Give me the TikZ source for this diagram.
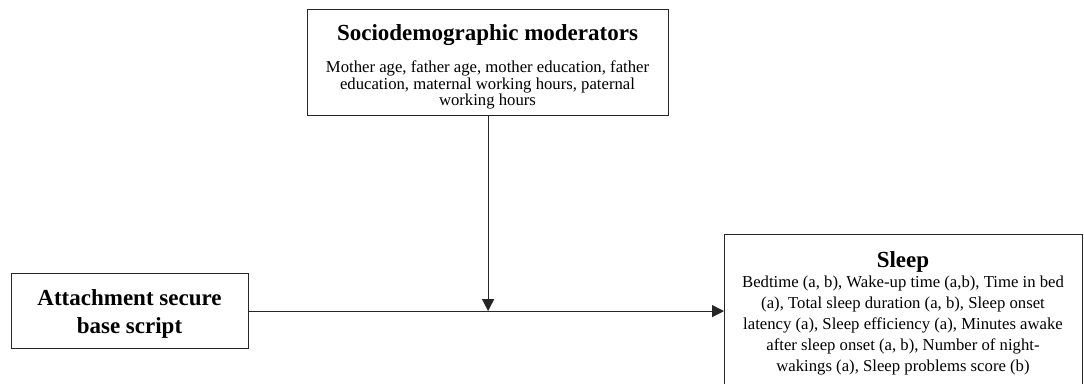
\documentclass[tikz,border=0pt]{standalone}
\usepackage{fontspec}
\setmainfont{Liberation Serif}
\usetikzlibrary{arrows.meta}
\begin{document}
\begin{tikzpicture}[x=1pt,y=-1pt,
  box/.style={draw=black!85, line width=1.2pt, rectangle, inner sep=0pt, anchor=north west},
  titletext/.style={font=\bfseries\fontsize{23}{28}\selectfont, align=center, inner sep=0pt, anchor=base},
  bodytext/.style={font=\fontsize{16.7}{16.3}\selectfont, align=center, inner sep=0pt, anchor=base},
  widebody/.style={font=\fontsize{16.7}{21}\selectfont, align=center, inner sep=0pt, anchor=base},
  conn/.style={draw=black!85, line width=1.2pt, -{Triangle[length=12pt,width=12pt]}}]
\useasboundingbox (0,0) rectangle (1084,383);
\fill[white] (0,0) rectangle (1084,383);
% boxes
\node[box, minimum width=361pt, minimum height=106pt] (mod) at (307,9) {};
\node[box, minimum width=237pt, minimum height=75pt] (att) at (11,273) {};
\node[box, minimum width=358pt, minimum height=200pt] (sleep) at (724,234) {};
% texts (base anchor = baseline of the last line)
\node[titletext] (modtitle) at (487.5,40) {Sociodemographic moderators};
\node[bodytext] (modbody) at (487.5,105.5) {Mother age, father age, mother education, father\\education, maternal working hours, paternal\\working hours};
\node[titletext] (atttitle) at (129.5,333) {Attachment secure\\base script};
\node[titletext] (sleeptitle) at (903,267) {Sleep};
\node[widebody] (sleepbody) at (903,371) {Bedtime (a, b), Wake-up time (a,b), Time in bed\\(a), Total sleep duration (a, b), Sleep onset\\latency (a), Sleep efficiency (a), Minutes awake\\after sleep onset (a, b), Number of night-\\wakings (a), Sleep problems score (b)};
% connectors
\coordinate (junction) at (mod.south |- att.east);
\draw[conn] (att.east) -- (att.east -| sleep.west);
\draw[conn] (mod.south) -- (junction);
\end{tikzpicture}
\end{document}
